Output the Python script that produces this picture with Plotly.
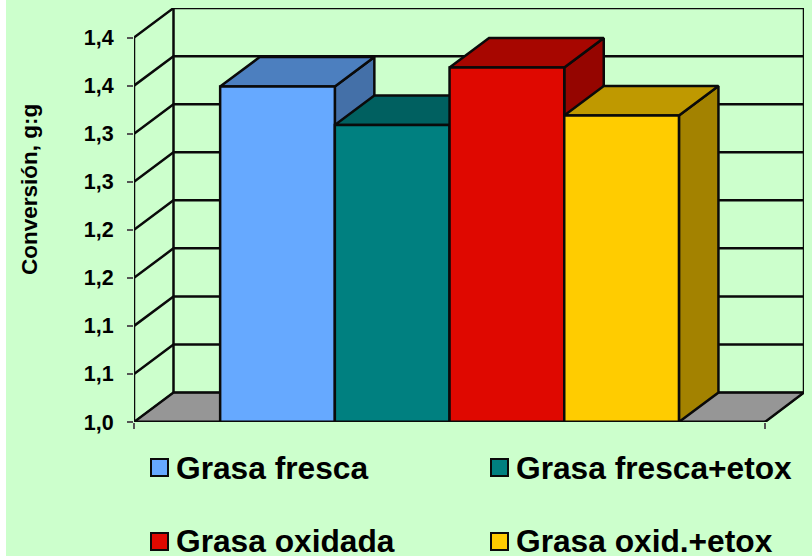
import plotly.graph_objects as go

categories = ["Grasa fresca", "Grasa fresca+etox", "Grasa oxidada", "Grasa oxid.+etox"]
values = [1.349, 1.309, 1.369, 1.319]
tick_values = [1.0, 1.05, 1.1, 1.15, 1.2, 1.25, 1.3, 1.35, 1.4]
tick_labels = ["1,0", "1,1", "1,1", "1,2", "1,2", "1,3", "1,3", "1,4", "1,4"]
front_colors = ["#66A9FF", "#008080", "#DF0800", "#FFCC00"]
top_colors = ["#4C7FBF", "#006060", "#A70600", "#BF9900"]
side_colors = ["#4470A8", "#005555", "#950500", "#A38200"]
axis_title = "Conversión, g:g"

W, H = 812, 556
L, R, T, B = 134, 804, 8, 422
BG = "#CCFFCC"
INK = "#0A0A0A"
X_PER_CAT = 114.7
Y_PER_UNIT = 48.05 / 0.05
X_MIN = (L - 277.5) / X_PER_CAT
X_MAX = (R - 277.5) / X_PER_CAT
Y_MIN = 1.0
Y_MAX = 1.0 + (B - T) / Y_PER_UNIT
DX = 39.5 / X_PER_CAT
DY = 29.5 / Y_PER_UNIT
X_FRONT_R = (765 - 277.5) / X_PER_CAT
FONT = "Liberation Sans, Arial, sans-serif"
LINE = 2.5


def px(p):
    return (p - L) / (R - L)


def py(p):
    return (B - p) / (B - T)


def poly(xs, ys, fill, z, width=LINE):
    return go.Scatter(x=xs, y=ys, mode="lines", fill="toself", fillcolor=fill,
                      line=dict(color=INK, width=width), zorder=z,
                      hoverinfo="skip", showlegend=False, cliponaxis=False)


fig = go.Figure()

# floor
fig.add_trace(poly([X_MIN, X_FRONT_R, X_FRONT_R + DX, X_MIN + DX, X_MIN],
                   [Y_MIN, Y_MIN, Y_MIN + DY, Y_MIN + DY, Y_MIN], "#969696", 0, 1.5))

# walls and grid
gx, gy = [], []
for v in tick_values:
    gx += [X_MIN, X_MIN + DX, X_MAX, None]
    gy += [v, v + DY, v + DY, None]
gx += [X_MIN, X_MIN, None, X_MIN + DX, X_MIN + DX, None, X_MAX, X_MAX, None]
gy += [Y_MIN, tick_values[-1], None, Y_MIN + DY, tick_values[-1] + DY, None,
       Y_MIN + DY, tick_values[-1] + DY, None]
gx += [X_FRONT_R, X_MAX]
gy += [Y_MIN, Y_MIN + DY]
fig.add_trace(go.Scatter(x=gx, y=gy, mode="lines", line=dict(color=INK, width=LINE),
                         zorder=0, hoverinfo="skip", showlegend=False, cliponaxis=False))

# depth faces
for i, v in enumerate(values):
    a, b = i - 0.5, i + 0.5
    fig.add_trace(poly([b, b + DX, b + DX, b, b],
                       [Y_MIN, Y_MIN + DY, v + DY, v, Y_MIN], side_colors[i], 1))
    fig.add_trace(poly([a, b, b + DX, a + DX, a],
                       [v, v, v + DY, v + DY, v], top_colors[i], 1))

# front faces
for i, v in enumerate(values):
    fig.add_trace(go.Bar(x=[i], y=[v], width=1, name=categories[i], zorder=2,
                         marker=dict(color=front_colors[i], line=dict(color=INK, width=LINE)),
                         showlegend=False, hoverinfo="skip"))

# front floor edge
fig.add_trace(go.Scatter(x=[X_MIN, X_FRONT_R], y=[Y_MIN, Y_MIN], mode="lines",
                         line=dict(color=INK, width=3), zorder=3,
                         hoverinfo="skip", showlegend=False, cliponaxis=False))

shapes = [dict(type="rect", xref="paper", yref="paper", layer="below",
               x0=px(6), x1=px(W), y0=py(H), y1=py(0), fillcolor=BG, line_width=0)]
annotations = [dict(text="<b>" + axis_title + "</b>", xref="paper", yref="paper", x=px(30), y=py(190),
                    textangle=-90, showarrow=False, xanchor="center", yanchor="middle",
                    font=dict(family=FONT, size=22.5, color="#000000"))]

swatch_x = [151, 491, 151, 491]
swatch_y = [459, 459, 533, 533]
text_x = [176, 516, 176, 516]
text_y = [468, 468, 541, 541]
for i, c in enumerate(categories):
    shapes.append(dict(type="rect", xref="paper", yref="paper",
                       x0=px(swatch_x[i]), x1=px(swatch_x[i] + 17),
                       y0=py(swatch_y[i] + 17), y1=py(swatch_y[i]),
                       fillcolor=front_colors[i], line=dict(color=INK, width=2)))
    annotations.append(dict(text="<b>" + c + "</b>", xref="paper", yref="paper", x=px(text_x[i]), y=py(text_y[i]),
                            showarrow=False, xanchor="left", yanchor="middle", xshift=-2,
                            font=dict(family=FONT, size=31.7, color="#000000")))

fig.update_layout(
    width=W, height=H,
    margin=dict(l=L, r=W - R, t=T, b=H - B, pad=0),
    paper_bgcolor="#FFFFFF", plot_bgcolor="rgba(0,0,0,0)",
    barmode="overlay", showlegend=False,
    shapes=shapes, annotations=annotations,
    xaxis=dict(range=[X_MIN, X_MAX], showgrid=False, zeroline=False, showline=False,
               tickmode="array", tickvals=[X_MIN, X_FRONT_R], ticktext=["", ""],
               ticks="outside", ticklen=6, tickwidth=1.5, tickcolor="#555555"),
    yaxis=dict(range=[Y_MIN, Y_MAX], showgrid=False, zeroline=False, showline=False,
               tickmode="array", tickvals=tick_values, ticktext=[f"<b>{t}</b>" for t in tick_labels],
               ticks="outside", ticklen=6, tickwidth=1.5, tickcolor="#555555",
               ticklabelstandoff=9,
               tickfont=dict(family=FONT, size=21.5, color="#000000")),
)

fig.write_html("out.html", config={"displayModeBar": False},
               post_script="document.body.style.margin='0';document.body.style.overflow='hidden';")
